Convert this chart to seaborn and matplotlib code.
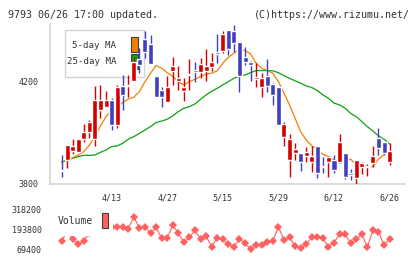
import numpy as np
import pandas as pd
import seaborn as sns
import matplotlib.pyplot as plt
from matplotlib.patches import Rectangle

sns.set_style("white")
plt.rcParams['font.family'] = ['DejaVu Sans Mono', 'DejaVu Sans']

W, H = 420, 259

# etiquetas de fecha (indice de vela -> texto)
label_idx = [10, 20, 30, 40, 50, 60]
label_txt = ['4/13', '4/27', '5/15', '5/29', '6/12', '6/26']

# velas: apertura, maximo, minimo, cierre
opens = [3885, 3856, 3894, 3929, 3924, 3976, 4002, 3975, 4088, 4102,
         4128, 4031, 4184, 4183, 4203, 4289, 4367, 4347, 4223, 4168,
         4122, 4243, 4204, 4165, 4225, 4246, 4239, 4242, 4257, 4317,
         4320, 4402, 4398, 4354, 4295, 4278, 4212, 4180, 4222, 4191,
         4180, 3985, 3894, 3920, 3920, 3909, 3887, 3949, 3870, 3887,
         3894, 3887, 3920, 3842, 3822, 3865, 3867, 3883, 3981, 3965,
         3887]
highs = [3885, 3913, 3952, 3976, 3976, 4033, 4050, 4183, 4187, 4164,
         4135, 4187, 4226, 4226, 4298, 4333, 4398, 4383, 4223, 4180,
         4223, 4295, 4259, 4216, 4289, 4276, 4291, 4328, 4312, 4387,
         4398, 4402, 4422, 4354, 4334, 4281, 4272, 4233, 4287, 4196,
         4180, 4044, 3995, 3959, 3920, 3943, 3949, 3949, 3907, 3909,
         3913, 3995, 3920, 3857, 3894, 3887, 3878, 3949, 4018, 3965,
         3959]
lows = [3885, 3828, 3864, 3917, 3924, 3965, 3979, 3949, 4059, 4101,
        4011, 4018, 4089, 4141, 4203, 4233, 4291, 4269, 4141, 4102,
        4122, 4187, 4168, 4126, 4168, 4200, 4216, 4203, 4242, 4272,
        4311, 4304, 4315, 4159, 4265, 4203, 4177, 4141, 4159, 4109,
        4031, 3949, 3829, 3894, 3852, 3887, 3848, 3822, 3842, 3829,
        3842, 3887, 3818, 3816, 3800, 3839, 3831, 3868, 3913, 3913,
        3874]
closes = [3885, 3850, 3952, 3948, 3976, 4002, 4044, 4128, 4128, 4128,
          4031, 4178, 4148, 4186, 4276, 4265, 4315, 4269, 4141, 4141,
          4180, 4259, 4216, 4180, 4227, 4238, 4268, 4259, 4278, 4308,
          4387, 4328, 4352, 4223, 4278, 4265, 4214, 4216, 4183, 4148,
          4031, 4035, 3976, 3936, 3887, 3926, 3909, 3842, 3865, 3904,
          3855, 3965, 3829, 3835, 3894, 3881, 3869, 3909, 3939, 3920,
          3930]

ma5 = [np.nan, 3885, 3894, 3903, 3913, 3926, 3952, 3985, 4027, 4063,
       4089, 4100, 4118, 4132, 4139, 4161, 4200, 4233, 4263, 4252,
       4235, 4220, 4200, 4187, 4200, 4209, 4220, 4229, 4233, 4242,
       4272, 4295, 4311, 4327, 4321, 4308, 4272, 4252, 4243, 4233,
       4200, 4155, 4109, 4057, 4004, 3972, 3949, 3936, 3916, 3907,
       3894, 3881, 3887, 3897, 3874, 3872, 3868, 3868, 3897, 3916,
       3926]
ma25 = [np.nan, 3885, 3894, 3900, 3907, 3912, 3912, 3913, 3924, 3933,
        3946, 3949, 3959, 3975, 3985, 3998, 4011, 4024, 4040, 4046,
        4053, 4066, 4083, 4096, 4102, 4113, 4131, 4148, 4162, 4174,
        4187, 4200, 4213, 4222, 4226, 4235, 4243, 4243, 4243, 4242,
        4235, 4223, 4213, 4203, 4194, 4183, 4177, 4165, 4148, 4135,
        4116, 4109, 4096, 4076, 4063, 4044, 4024, 4007, 3988, 3975,
        3956]

volume = [np.nan, 121000, 180000, 133500, 100500, 121000, 170000, 250000, 230000, 215000,
          205000, 206000, 206000, 197000, 272000, 200000, 210000, 169000, 206000, 137800,
          137800, 220500, 169000, 113000, 144000, 188000, 132000, 150000, 85600, 141600,
          131600, 100500, 85600, 133500, 106700, 71300, 96000, 96000, 112900, 121000,
          210000, 127000, 144000, 90000, 75600, 102000, 144000, 144000, 137800, 85600,
          110500, 162700, 162700, 106700, 131600, 164600, 81800, 189400, 178700, 96000,
          133500]

RED, BLUE = '#d40000', '#3f3fbf'
ORANGE, GREEN = '#f08000', '#10a010'
VOLC = '#ff6060'
GRID = '#d4d4d4'
TXT = '#333333'

df = pd.DataFrame({'i': np.arange(len(opens)), 'o': opens, 'h': highs,
                   'l': lows, 'c': closes, 'ma5': ma5, 'ma25': ma25,
                   'vol': volume})
df['col'] = np.where(df['c'] >= df['o'], RED, BLUE)


def fx(px):
    return px / W


def fy(py):
    return 1 - py / H


fig = plt.figure(figsize=(W / 100, H / 100), dpi=100)
ax = fig.add_axes([fx(50), fy(184), fx(405) - fx(50), fy(24) - fy(184)])
axv = fig.add_axes([fx(50), fy(255), fx(405) - fx(50), fy(203) - fy(255)])
axv.set_facecolor('none')

# velas
ax.vlines(df['i'], df['l'], df['h'], colors=df['col'], lw=1.0, zorder=3)
body = (df['c'] - df['o']).abs().clip(lower=5)
bottom = df[['o', 'c']].min(axis=1)
ax.bar(df['i'], body, bottom=bottom, width=0.9, color=df['col'], zorder=4)

sns.lineplot(data=df, x='i', y='ma25', ax=ax, color=GREEN, lw=0.9, zorder=2)
sns.lineplot(data=df, x='i', y='ma5', ax=ax, color=ORANGE, lw=0.9, zorder=2)

ax.set_xlim(-1.08, 62.77)
ax.set_ylim(3800, 4425)
ax.set_xlabel('')
ax.set_ylabel('')
for s in ['top', 'right']:
    ax.spines[s].set_visible(False)
for s in ['left', 'bottom']:
    ax.spines[s].set_color(GRID)
    ax.spines[s].set_linewidth(1.2)

ax.set_yticks([3800, 4200])
ax.set_yticklabels(['3800', '4200'])
ax.tick_params(axis='y', length=6, width=1.0, color=GRID, labelsize=6,
               labelcolor=TXT, pad=2)
ax.set_xticks(np.linspace(-1.08, 62.77, 12))
ax.set_xticklabels([])
ax.tick_params(axis='x', which='major', direction='inout', length=7,
               width=1.0, color=GRID)
ax.set_xticks(label_idx, minor=True)
ax.set_xticklabels(label_txt, minor=True)
ax.tick_params(axis='x', which='minor', length=0, labelsize=6,
               labelcolor=TXT, pad=7)

# leyenda de medias
ax.add_patch(Rectangle((fx(65), fy(77)), fx(144) - fx(65), fy(30) - fy(77),
                       transform=fig.transFigure, facecolor='white',
                       edgecolor=GRID, lw=1.0, zorder=1))
ax.text(fx(116), fy(46), '5-day MA', transform=fig.transFigure, fontsize=6.6,
        ha='right', va='center', color=TXT, zorder=1)
ax.text(fx(116), fy(62), '25-day MA', transform=fig.transFigure, fontsize=6.6,
        ha='right', va='center', color=TXT, zorder=1)
ax.add_patch(Rectangle((fx(131), fy(52.3)), fx(137.7) - fx(131), fy(36.7) - fy(52.3),
                       transform=fig.transFigure, facecolor=ORANGE,
                       edgecolor='#404040', lw=0.8, zorder=1))
ax.add_patch(Rectangle((fx(131), fy(69.3)), fx(137.7) - fx(131), fy(54) - fy(69.3),
                       transform=fig.transFigure, facecolor=GREEN,
                       edgecolor='#404040', lw=0.8, zorder=1))

# volumen
sns.lineplot(data=df, x='i', y='vol', ax=axv, color=VOLC, lw=0.8,
             marker='D', markersize=4.2, markeredgewidth=0, zorder=2)
axv.set_xlim(-1.08, 62.77)
axv.set_ylim(33900, 357400)
axv.set_xlabel('')
axv.set_ylabel('')
axv.set_xticks([])
axv.set_yticks([69400, 193800, 318200])
axv.set_yticklabels(['69400', '193800', '318200'])
axv.tick_params(axis='y', length=0, labelsize=6, labelcolor=TXT, pad=6)
for s in axv.spines.values():
    s.set_visible(False)

axv.add_patch(Rectangle((fx(56), fy(236)), fx(113) - fx(56), fy(206) - fy(236),
                        transform=fig.transFigure, facecolor='white',
                        edgecolor='none', zorder=5))
axv.text(fx(58), fy(221.5), 'Volume', transform=fig.transFigure, fontsize=7,
         ha='left', va='center', color=TXT, zorder=6)
axv.add_patch(Rectangle((fx(101.5), fy(228.3)), fx(107.7) - fx(101.5), fy(212.7) - fy(228.3),
                        transform=fig.transFigure, facecolor=VOLC,
                        edgecolor='#404040', lw=0.8, zorder=6))

fig.text(fx(8), fy(14.5), '9793 06/26 17:00 updated.', fontsize=7.2,
         ha='left', va='center', color=TXT)
fig.text(fx(410), fy(14.5), '(C)https://www.rizumu.net/', fontsize=7.2,
         ha='right', va='center', color=TXT)

fig.savefig('out.png', dpi=100)
